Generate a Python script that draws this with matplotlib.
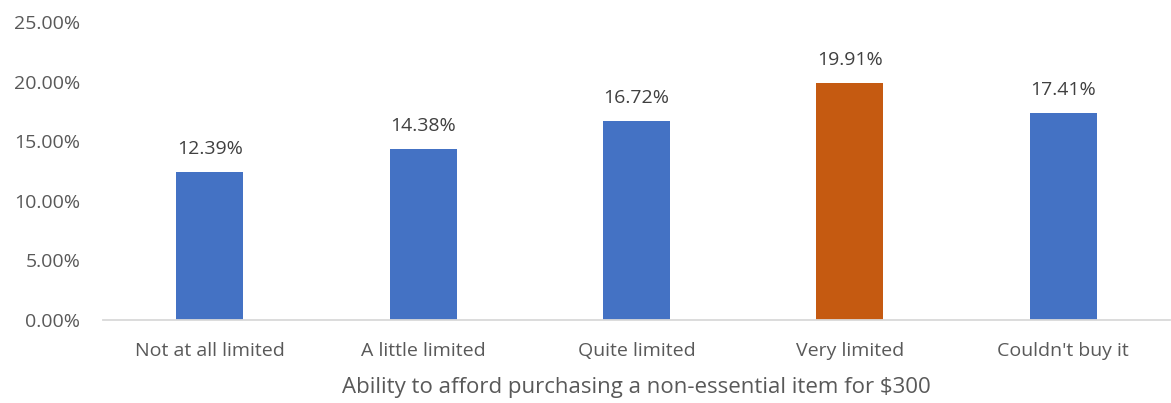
import matplotlib

matplotlib.use("Agg")
import matplotlib.pyplot as plt
from matplotlib.ticker import FuncFormatter, MultipleLocator

categories = ["Not at all limited", "A little limited", "Quite limited", "Very limited", "Couldn't buy it"]
values = [0.1239, 0.1438, 0.1672, 0.1991, 0.1741]
highlight = "Very limited"

BLUE = "#4472C4"
ORANGE = "#C55A11"
TEXT = "#595959"

plt.rcParams["font.family"] = ["Open Sans", "DejaVu Sans"]

fig = plt.figure(figsize=(11.71, 4.03), dpi=100)
ax = fig.add_axes([0.088, 0.206, 0.911, 0.739])

colors = [ORANGE if c == highlight else BLUE for c in categories]
x = range(len(categories))
bars = ax.bar(x, values, width=0.314, color=colors, zorder=2)

for b, v in zip(bars, values):
    ax.annotate(f"{v * 100:.2f}%", (b.get_x() + b.get_width() / 2, v),
                xytext=(0, 10), textcoords="offset points",
                ha="center", va="bottom", fontsize=14, color="#404040")

ax.set_xlim(-0.5, len(categories) - 0.5)
ax.set_ylim(0, 0.25)
ax.yaxis.set_major_locator(MultipleLocator(0.05))
ax.yaxis.set_major_formatter(FuncFormatter(lambda v, _: f"{v * 100:.2f}%"))
ax.set_xticks(list(x))
ax.set_xticklabels(categories)
ax.tick_params(axis="both", length=0, labelsize=14, labelcolor=TEXT)
ax.tick_params(axis="x", pad=16)
ax.tick_params(axis="y", pad=16.5)

for s in ("top", "right", "left"):
    ax.spines[s].set_visible(False)
ax.spines["bottom"].set_color("#D9D9D9")
ax.spines["bottom"].set_linewidth(1.3)

ax.set_xlabel("Ability to afford purchasing a non-essential item for $300",
              fontsize=16, color=TEXT, labelpad=12)

fig.savefig("out.png", dpi=100)
